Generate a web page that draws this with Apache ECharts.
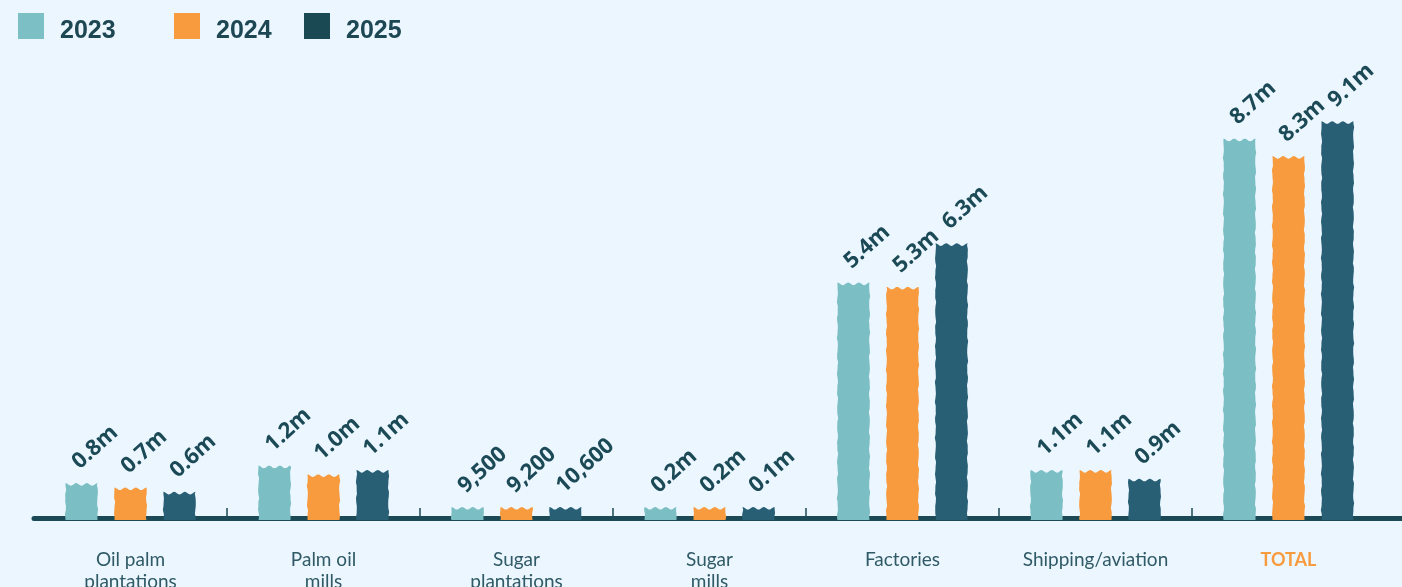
<!DOCTYPE html>
<html>
<head>
<meta charset="utf-8">
<script src="https://cdn.jsdelivr.net/npm/echarts@6/dist/echarts.min.js"></script>
<style>
  html, body { margin: 0; padding: 0; background: #ebf6ff; }
  #chart { width: 1402px; height: 587px; }
</style>
</head>
<body>
<div id="chart"></div>
<script>
// ---- data ----
const categories = ['Oil palm\nplantations', 'Palm oil\nmills', 'Sugar\nplantations', 'Sugar\nmills', 'Factories', 'Shipping/aviation', 'TOTAL'];
const years = ['2023', '2024', '2025'];
const values2023 = [800000, 1200000, 9500, 200000, 5400000, 1100000, 8700000];
const values2024 = [700000, 1000000, 9200, 200000, 5300000, 1100000, 8300000];
const values2025 = [600000, 1100000, 10600, 100000, 6300000, 900000, 9100000];
const seriesValues = [values2023, values2024, values2025];

// ---- style ----
const barColors = ['#7bbfc4', '#f89b3e', '#285f75'];
const legendColors = ['#7cc0c5', '#f89b3e', '#1a4853'];
const darkText = '#1b4a56';
const BAR_W = 32, BAR_STEP = 49, MIN_H = 11;

function fmt(v) {
  return v >= 100000 ? (v / 1e6).toFixed(1) + 'm' : v.toLocaleString('en-US');
}

function wobble(y, seed) {
  return 0.45 * Math.sin(y * 0.35 + seed) + 0.25 * Math.sin(y * 0.9 + seed * 1.7);
}

function renderBar(params, api) {
  const ci = api.value(0), v = api.value(1);
  const base = api.coord([ci, 0]);
  const topPt = api.coord([ci, v]);
  const cx = base[0] + (params.seriesIndex - 1) * BAR_STEP;
  const yb = base[1];
  let yt = topPt[1];
  if (yb - yt < MIN_H) yt = yb - MIN_H;
  const x0 = cx - BAR_W / 2, x1 = cx + BAR_W / 2;
  const seed = ci * 3.1 + params.seriesIndex * 1.3;
  const pts = [];
  for (let y = yb; y > yt + 2; y -= 4) pts.push([x0 + wobble(y, seed), y]);
  const n = 36, A = 2.6;
  for (let i = 0; i <= n; i++) {
    const t = i / n;
    pts.push([x0 + BAR_W * t, yt + A * (1 - Math.cos(2 * Math.PI * 3 * t)) / 2]);
  }
  for (let y = yt + 2; y < yb; y += 4) pts.push([x1 + wobble(y, seed + 5), y]);
  pts.push([x1, yb + 2]);
  pts.push([x0, yb + 2]);
  const rot = 42 * Math.PI / 180;
  return {
    type: 'group',
    children: [
      { type: 'polygon', shape: { points: pts }, style: { fill: api.visual('color') } },
      {
        type: 'text', x: cx - 6, y: yt - 18, rotation: rot,
        style: {
          text: fmt(v), fill: darkText, align: 'left', verticalAlign: 'middle',
          font: 'bold 22px "Open Sans", "Noto Sans", sans-serif'
        }
      }
    ]
  };
}

const chart = echarts.init(document.getElementById('chart'));
const legendLefts = [18, 174, 304];

const option = {
  backgroundColor: '#ebf6ff',
  animation: false,
  legend: years.map((y, i) => ({
    left: legendLefts[i], top: 13, padding: 0,
    itemWidth: 26, itemHeight: 26, icon: 'rect',
    data: [{ name: y, itemStyle: { color: legendColors[i] } }],
    formatter: '{a|{name}}',
    textStyle: {
      fontSize: 25, fontWeight: 'bold', color: '#1d4753', fontFamily: '"Liberation Sans", Arial, sans-serif',
      rich: { a: { fontSize: 25, fontWeight: 'bold', color: '#1d4753', fontFamily: '"Liberation Sans", Arial, sans-serif', padding: [10, 0, 0, 11] } }
    },
    selectedMode: false
  })),
  grid: { left: 34, right: -176, top: 82, bottom: 69, outerBoundsMode: 'none', containLabel: false },
  xAxis: {
    type: 'category',
    data: categories.concat(['']),
    boundaryGap: true,
    axisLine: { lineStyle: { color: '#1b4a56', width: 5, cap: 'round' } },
    axisTick: {
      show: true, inside: true, length: 10,
      interval: function (idx) { return idx !== 0 && idx !== categories.length; },
      lineStyle: { color: '#1b4a56', width: 1.5 }
    },
    axisLabel: {
      interval: 0, margin: 31, fontSize: 19, lineHeight: 22,
      fontFamily: 'Lato, "Open Sans", sans-serif', color: '#2f5a66',
      formatter: function (v) { return v === 'TOTAL' ? '{t|TOTAL}' : v; },
      rich: { t: { color: '#f89b3e', fontWeight: 'bold', fontSize: 18, fontFamily: 'Lato, sans-serif' } }
    },
    splitLine: { show: false }
  },
  yAxis: { type: 'value', min: 0, max: 10000000, show: false, splitLine: { show: false } },
  series: years.map((y, i) => ({
    name: y,
    type: 'custom',
    renderItem: renderBar,
    itemStyle: { color: barColors[i] },
    encode: { x: 0, y: 1 },
    data: seriesValues[i].map((v, ci) => [ci, v]),
    z: 1
  }))
};
chart.setOption(option);
</script>
</body>
</html>
